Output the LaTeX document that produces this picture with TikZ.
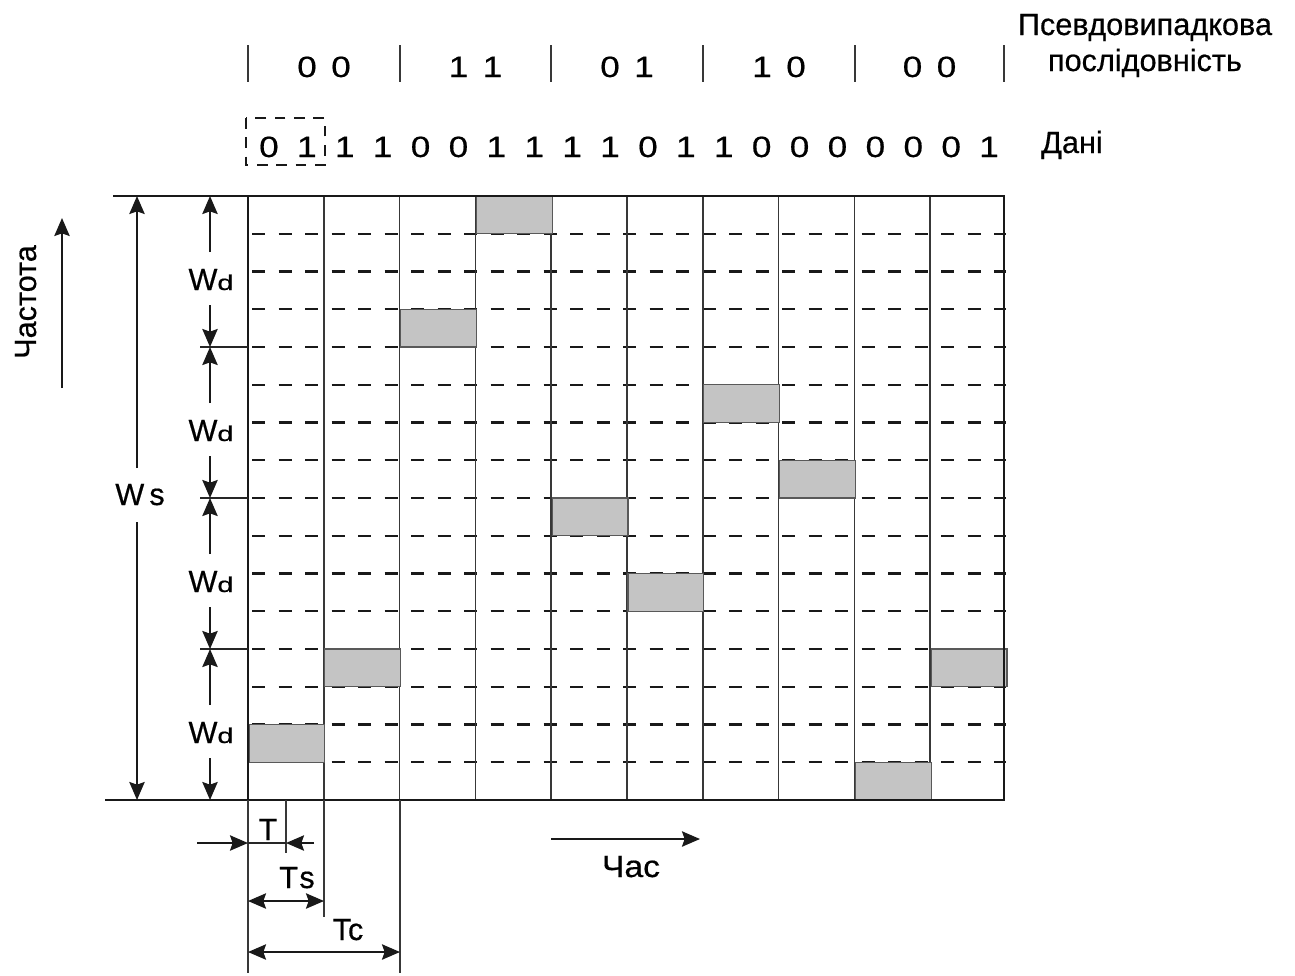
\documentclass[tikz,border=0pt]{standalone}
\usepackage{fontspec}
\setmainfont{Liberation Sans}[FakeBold=0.5]
\usetikzlibrary{arrows.meta}
\newcommand{\wide}[1]{\scalebox{1.2}[1.0]{#1}}
\newcommand{\smalld}{\scalebox{1.35}[1.0]{\fontsize{16}{18}\selectfont d}}
\begin{document}
\begin{tikzpicture}[x=0.75pt,y=-0.75pt,
  lbl/.style={font=\fontsize{23}{27}\selectfont, inner sep=0pt, anchor=base},
  dig/.style={font=\fontsize{22}{26}\selectfont, inner sep=0pt, anchor=base},
  mainline/.style={line width=1.5pt, draw=black!90},
  colline/.style={line width=1.1pt, draw=black!78},
  tickline/.style={line width=1pt, draw=black!85},
  dashline/.style={line width=1.7pt, draw=black!90, dash pattern=on 9.75pt off 10.125pt},
  boxdash/.style={line width=1.4pt, draw=black!90, dash pattern=on 8pt off 6.5pt},
  block/.style={fill=black!23, draw=black!65, line width=0.8pt},
  arr/.style={line width=1.5pt, draw=black!90, -{Stealth[length=13.5pt,width=11.5pt,inset=2pt]}},
  darr/.style={line width=1.5pt, draw=black!90, {Stealth[length=13.5pt,width=11.5pt,inset=2pt]}-{Stealth[length=13.5pt,width=11.5pt,inset=2pt]}},
]
\path[use as bounding box] (0,0) rectangle (1295,975);

% ---------- pseudo-random sequence row ----------
\foreach \x [count=\n] in {248,400,551,703,855,1004}
  \draw[colline] (\x,45) -- (\x,82);
\foreach \c/\a/\b [count=\n] in {324/0/0,475.5/1/1,627/0/1,779/1/0,929.5/0/0} {
  \node[dig] (pa\n) at ({\c-17},77) {\wide{\a}};
  \node[dig] (pb\n) at ({\c+17},77) {\wide{\b}};
}
\node[lbl] (pslabel1) at (1145,35) {Псевдовипадкова};
\node[lbl] (pslabel2) at (1145,71) {послідовність};

% ---------- data row ----------
\foreach \d [count=\n from 0] in {0,1,1,1,0,0,1,1,1,1,0,1,1,0,0,0,0,0,0,1}
  \node[dig] (d\n) at ({250+37.9*(\n+0.5)},157) {\wide{\d}};
\draw[boxdash] (246,118) rectangle (325,165);
\node[lbl] (datalabel) at (1072,153) {Дані};

% ---------- grid ----------
\foreach \k in {1,...,15}
  \draw[dashline] (252,{196+37.75*\k}) -- (1006,{196+37.75*\k});
\foreach \i in {1,...,9}
  \draw[colline] ({248+75.8*\i},196) -- ({248+75.8*\i},800);
\foreach \c/\r in {0/14,1/12,2/3,3/0,4/8,5/10,6/5,7/7,8/15,9/12}
  \draw[block] ({248+75.8*\c+1},{196+37.75*\r}) rectangle ({248+75.8*(\c+1)+1},{196+37.75*(\r+1)});
\coordinate (TL) at (113,196); \coordinate (TR) at (1004,196);
\coordinate (BL) at (105,800); \coordinate (BR) at (1004,800);
\draw[mainline] (TL) -- (TR) -- (BR) -- (BL);
\draw[mainline] (248,196) -- (248,800);

% ---------- frequency axis ----------
\node[lbl, rotate=90] (freq) at (36,302) {Частота};
\coordinate (fa) at (62,388); \coordinate (fb) at (62,218);
\draw[arr] (fa) -- (fb);

% ---------- Ws ----------
\node[lbl] (ws) at (140,505) {W\,s};
\coordinate (wsa) at (137,468); \coordinate (wsb) at (137,196);
\coordinate (wsc) at (137,522); \coordinate (wsd) at (137,800);
\draw[arr] (wsa) -- (wsb);
\draw[arr] (wsc) -- (wsd);

% ---------- Wd ----------
\foreach \y in {347,498,649}
  \draw[tickline] (200,\y) -- (248,\y);
\foreach \g [count=\n] in {196,347,498,649} {
  \node[lbl] (wd\n) at (211,{\g+94}) {W\smalld};
  \coordinate (wdu\n) at (210,{\g+56});
  \coordinate (wdt\n) at (210,\g);
  \coordinate (wdd\n) at (210,{\g+109});
  \coordinate (wdb\n) at (210,{\g+151});
  \draw[arr] (wdu\n) -- (wdt\n);
  \draw[arr] (wdd\n) -- (wdb\n);
}

% ---------- time marks below ----------
\draw[colline] (248,800) -- (248,973);
\draw[colline] (286,800) -- (286,853);
\draw[colline] (324,800) -- (324,917);
\draw[colline] (400,800) -- (400,973);

\coordinate (t0) at (248,843); \coordinate (t1) at (286,843);
\draw[tickline] (t0) -- (t1);
\coordinate (tl) at (197,843); \coordinate (tr) at (314,843);
\draw[arr] (tl) -- (t0);
\draw[arr] (tr) -- (t1);
\node[lbl] (T) at (268,840) {T};

\coordinate (tsa) at (248,901); \coordinate (tsb) at (324,901);
\draw[darr] (tsa) -- (tsb);
\node[lbl] (Ts) at (297,888) {T\kern1pt s};

\coordinate (tca) at (248,952); \coordinate (tcb) at (400,952);
\draw[darr] (tca) -- (tcb);
\node[lbl] (Tc) at (348,940) {Tc};

\coordinate (ha) at (551,839); \coordinate (hb) at (700,839);
\draw[arr] (ha) -- (hb);
\node[lbl] (time) at (631,877) {\scalebox{1.1}[1.0]{Час}};
\end{tikzpicture}
\end{document}
